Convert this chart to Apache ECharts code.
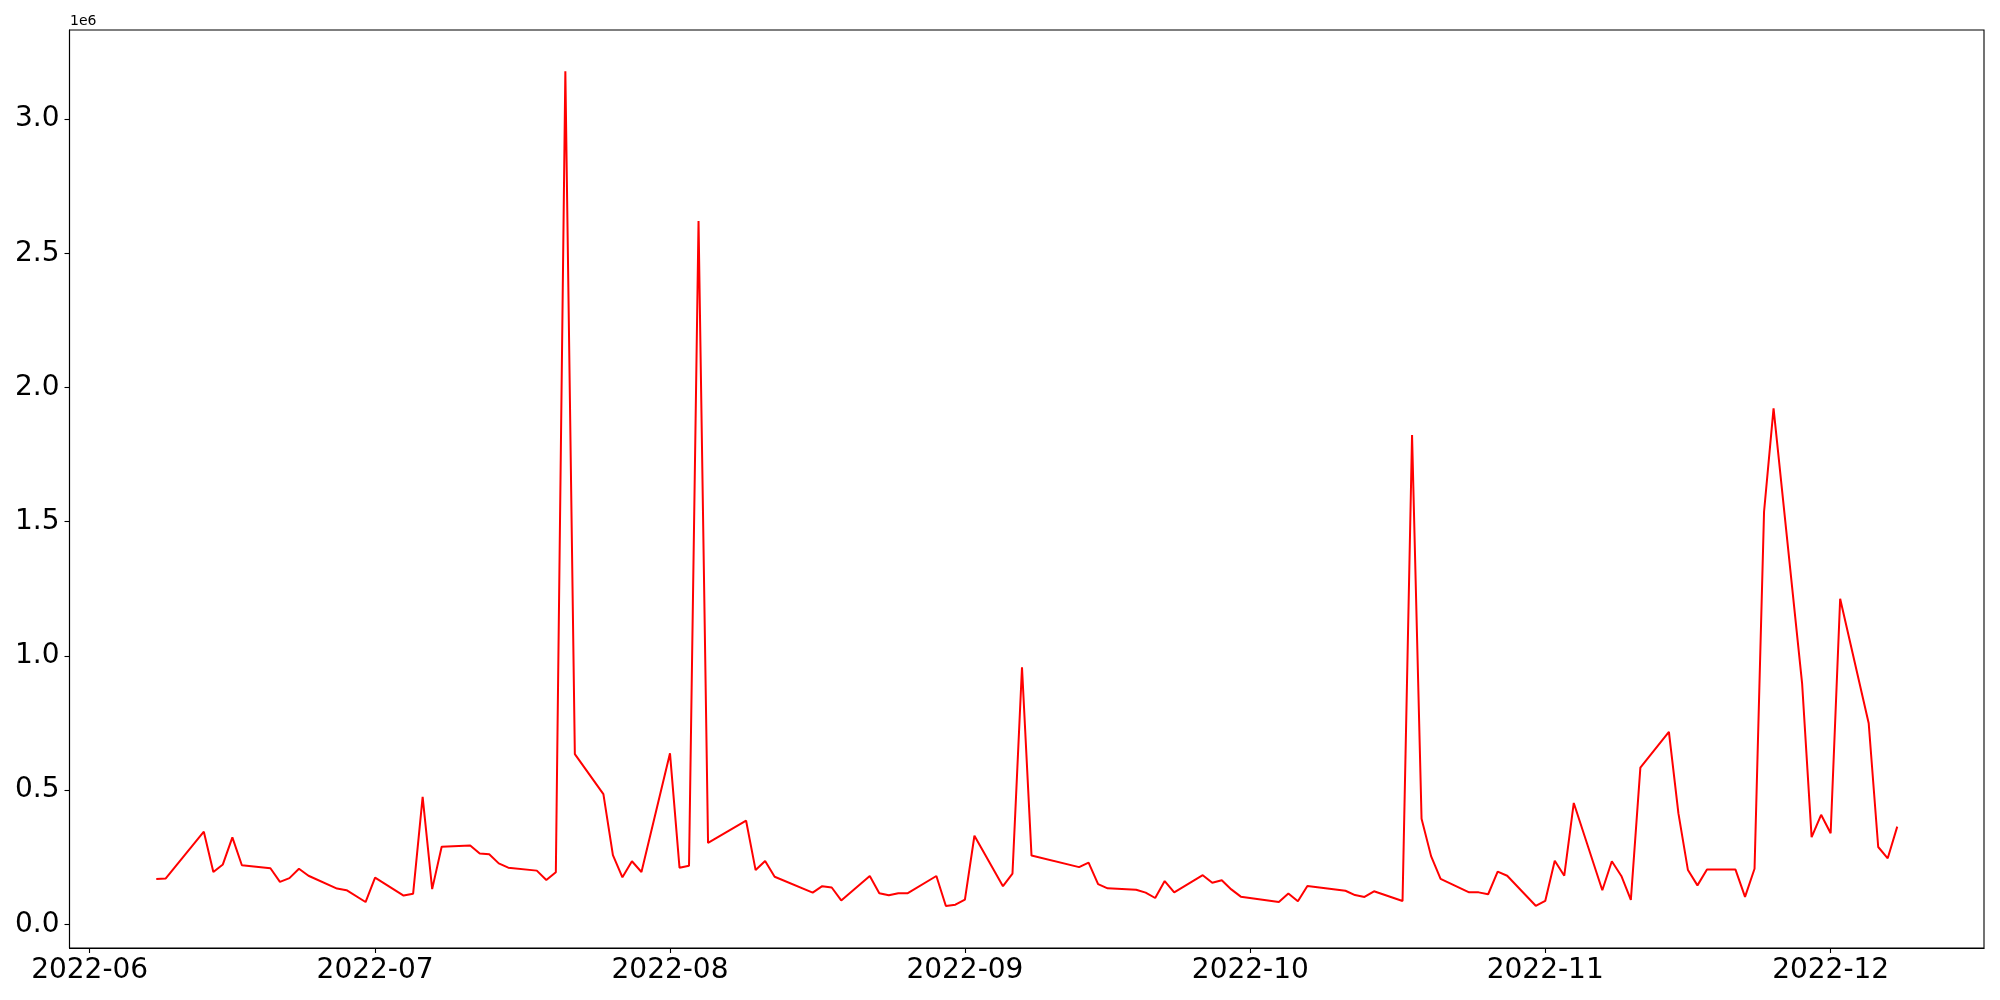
<!DOCTYPE html>
<html>
<head>
<meta charset="utf-8">
<script src="https://cdn.jsdelivr.net/npm/echarts@6/dist/echarts.min.js"></script>
<style>html,body{margin:0;padding:0;background:#fff;}#chart{width:2000px;height:1000px;}</style>
</head>
<body>
<div id="chart"></div>
<script>
const dates = [
  '2022-06-08','2022-06-09','2022-06-13','2022-06-14','2022-06-15','2022-06-16','2022-06-17',
  '2022-06-20','2022-06-21','2022-06-22','2022-06-23','2022-06-24','2022-06-27','2022-06-28',
  '2022-06-30','2022-07-01','2022-07-04','2022-07-05','2022-07-06','2022-07-07','2022-07-08',
  '2022-07-11','2022-07-12','2022-07-13','2022-07-14','2022-07-15','2022-07-18','2022-07-19',
  '2022-07-20','2022-07-21','2022-07-22','2022-07-25','2022-07-26','2022-07-27','2022-07-28',
  '2022-07-29','2022-08-01','2022-08-02','2022-08-03','2022-08-04','2022-08-05','2022-08-09',
  '2022-08-10','2022-08-11','2022-08-12','2022-08-16','2022-08-17','2022-08-18','2022-08-19',
  '2022-08-22','2022-08-23','2022-08-24','2022-08-25','2022-08-26','2022-08-29','2022-08-30',
  '2022-08-31','2022-09-01','2022-09-02','2022-09-05','2022-09-06','2022-09-07','2022-09-08',
  '2022-09-13','2022-09-14','2022-09-15','2022-09-16','2022-09-19','2022-09-20','2022-09-21',
  '2022-09-22','2022-09-23','2022-09-26','2022-09-27','2022-09-28','2022-09-29','2022-09-30',
  '2022-10-04','2022-10-05','2022-10-06','2022-10-07','2022-10-11','2022-10-12','2022-10-13',
  '2022-10-14','2022-10-17','2022-10-18','2022-10-19','2022-10-20','2022-10-21','2022-10-24',
  '2022-10-25','2022-10-26','2022-10-27','2022-10-28','2022-10-31','2022-11-01','2022-11-02',
  '2022-11-03','2022-11-04','2022-11-07','2022-11-08','2022-11-09','2022-11-10','2022-11-11',
  '2022-11-14','2022-11-15','2022-11-16','2022-11-17','2022-11-18','2022-11-21','2022-11-22',
  '2022-11-23','2022-11-24','2022-11-25','2022-11-28','2022-11-29','2022-11-30','2022-12-01',
  '2022-12-02','2022-12-05','2022-12-06','2022-12-07','2022-12-08'
];
const values = [
  169000,171000,345000,195000,223000,324000,220000,
  209000,158000,172000,207000,181000,133000,127000,
  83000,174000,107000,114000,475000,131000,289000,
  294000,264000,261000,227000,211000,200000,165000,
  194000,3178000,634000,485000,258000,175000,235000,
  195000,637000,211000,218000,2620000,303000,386000,
  202000,236000,177000,118000,142000,137000,89000,
  180000,116000,108000,116000,116000,180000,68000,
  73000,92000,330000,142000,189000,958000,256000,
  213000,230000,150000,134000,129000,118000,98000,
  161000,119000,183000,155000,164000,130000,103000,
  83000,115000,86000,143000,125000,109000,102000,
  123000,87000,1823000,393000,254000,169000,119000,
  119000,112000,196000,181000,69000,87000,237000,
  181000,452000,127000,235000,180000,91000,584000,
  717000,413000,202000,145000,204000,204000,102000,
  207000,1537000,1922000,898000,325000,408000,339000,
  1213000,749000,288000,246000,364000
];
const monthTicks = ['2022-06-01','2022-07-01','2022-08-01','2022-09-01','2022-10-01','2022-11-01','2022-12-01'];
const yTicks = [0, 500000, 1000000, 1500000, 2000000, 2500000, 3000000];

function ts(s){ const p = s.split('-').map(Number); return Date.UTC(p[0], p[1]-1, p[2]); }
const DAY = 86400000;
const monthTs = monthTicks.map(ts);
const xMin = ts('2022-06-01') - 2.12 * DAY;
const xMax = ts('2022-06-01') + 199.12 * DAY;
const seriesData = dates.map((d, i) => [ts(d), values[i]]);

const chart = echarts.init(document.getElementById('chart'), null, {renderer: 'canvas'});
const font = 'DejaVu Sans';
chart.setOption({
  animation: false,
  backgroundColor: '#ffffff',
  grid: {left: 69.5, right: 16, top: 30, bottom: 52, show: true, borderColor: '#000', borderWidth: 1.1, backgroundColor: 'transparent'},
  xAxis: {
    type: 'value', min: xMin, max: xMax, scale: true,
    splitLine: {show: false},
    axisLine: {show: true, onZero: false, lineStyle: {color: '#000', width: 1.1}},
    axisTick: {show: true, length: 5, lineStyle: {color: '#000', width: 1.1}, customValues: monthTs},
    axisLabel: {
      customValues: monthTs, fontFamily: font, fontSize: 28, color: '#000', margin: 9,
      formatter: function (v) { const d = new Date(v); return d.getUTCFullYear() + '-' + String(d.getUTCMonth()+1).padStart(2,'0'); }
    }
  },
  yAxis: {
    type: 'value', min: -88300, max: 3332000,
    splitLine: {show: false},
    axisLine: {show: true, onZero: false, lineStyle: {color: '#000', width: 1.1}},
    axisTick: {show: true, length: 5, lineStyle: {color: '#000', width: 1.1}, customValues: yTicks},
    axisLabel: {
      customValues: yTicks, fontFamily: font, fontSize: 28, color: '#000', margin: 10,
      formatter: function (v) { return (v / 1e6).toFixed(1); }
    }
  },
  graphic: [{type: 'text', left: 70, top: 14, style: {text: '1e6', font: '14px "DejaVu Sans"', fill: '#000'}}],
  series: [{
    type: 'line', data: seriesData, showSymbol: false, symbol: 'none',
    lineStyle: {color: '#ff0000', width: 2}, itemStyle: {color: '#ff0000'}
  }]
});
</script>
</body>
</html>
